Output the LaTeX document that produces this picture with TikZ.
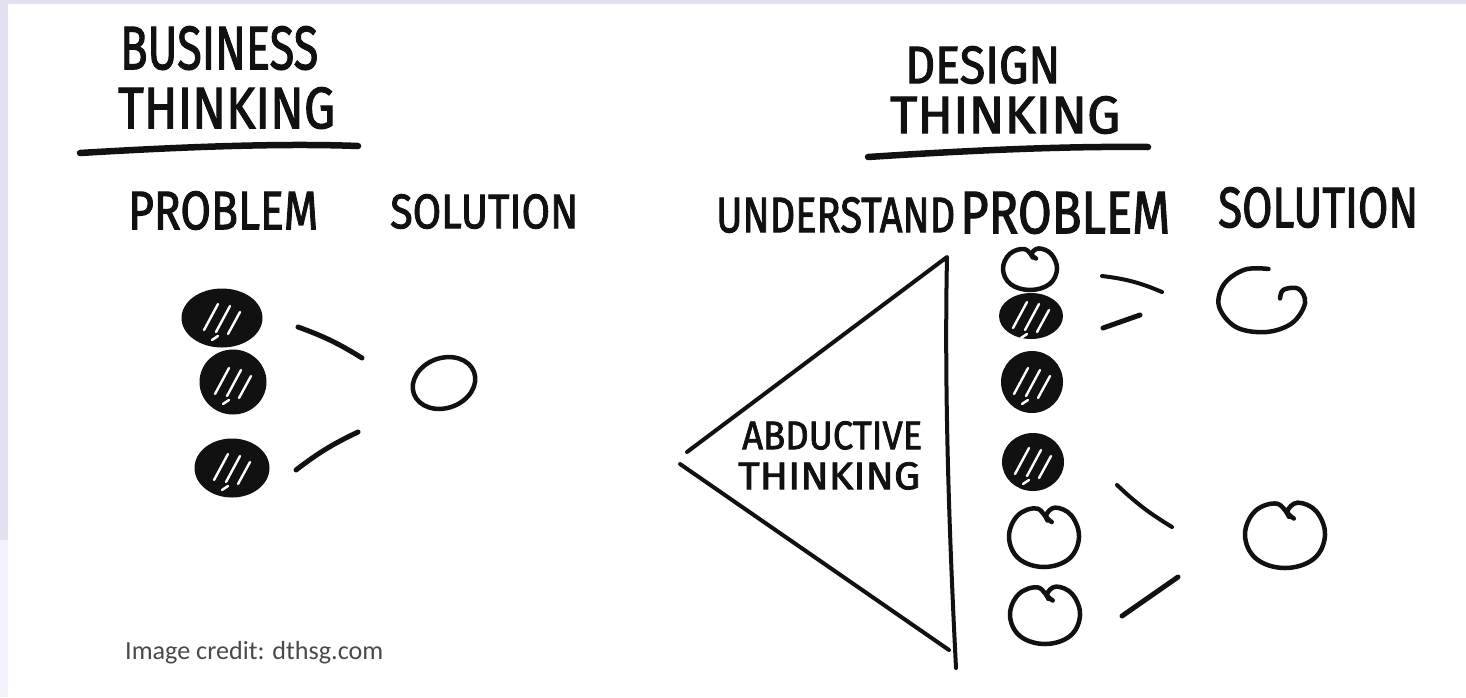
\documentclass[tikz,border=0pt]{standalone}
\usepackage{fontspec}
\setmainfont{Fira Sans}
\newfontfamily\handfont{Fira Sans}[FakeBold=2]
\newfontfamily\creditfont{Carlito}
\usetikzlibrary{shapes.geometric}
\definecolor{ink}{HTML}{111111}
\definecolor{lav}{HTML}{E3E1EF}
\definecolor{lavlight}{HTML}{F4F1FC}
\definecolor{creditgray}{HTML}{4A4A4A}
\newcommand{\handtxt}[3]{\resizebox{#1pt}{#2pt}{\handfont #3}}
\newcommand{\handthin}[3]{\resizebox{#1pt}{#2pt}{#3}}
\newcommand{\hatchin}[1]{%
  \draw[hatch] ([shift={(-18,12)}]#1.center) -- ([shift={(-4,-14)}]#1.center);
  \draw[hatch] ([shift={(-6,14)}]#1.center) -- ([shift={(8,-12)}]#1.center);
  \draw[hatch] ([shift={(6,16)}]#1.center) -- ([shift={(18,-6)}]#1.center);
  \draw[hatch] ([shift={(-10,22)}]#1.center) -- ([shift={(-4,18)}]#1.center);}
\begin{document}
\begin{tikzpicture}[x=1pt,y=-1pt,
  hand/.style={inner sep=0pt, anchor=north west, text=ink},
  stroke/.style={draw=ink, line width=5pt, line cap=round},
  rule/.style={draw=ink, line width=6.5pt, line cap=round},
  tri/.style={draw=ink, line width=4pt, line cap=round, line join=round},
  blob/.style={ellipse, fill=ink, draw=ink, line width=2pt, inner sep=0pt},
  ring/.style={draw=ink, line width=4.5pt, line cap=round, line join=round},
  hatch/.style={draw=white, line width=2.4pt, line cap=round},
  loop/.pic={\draw[ring] plot[smooth, tension=0.65] coordinates {(0.1,-0.55) (-0.2,-0.95) (-0.75,-0.72) (-1,0) (-0.72,0.72) (0,1) (0.72,0.72) (1,0) (0.78,-0.72) (0.32,-0.98) (0.06,-0.72) (0.22,-0.5)};},
  hook/.pic={\draw[ring] plot[smooth, tension=0.6] coordinates {(0.15,-0.97) (-0.4,-0.95) (-0.88,-0.5) (-1,0.2) (-0.6,0.85) (0.1,1) (0.7,0.72) (1,0.1) (0.85,-0.35) (0.5,-0.32) (0.42,-0.05)};}]

% background and frame strips
\fill[white] (0,0) rectangle (1466,697);
\fill[lav] (0,0) rectangle (1466,4);
\fill[lav] (0,0) rectangle (8,540);
\fill[lavlight] (0,540) rectangle (8,697);
\useasboundingbox (0,0) rectangle (1466,697);

% ---------------- Business thinking ----------------
\node[hand] (bt1) at (120,26) {\handtxt{198}{43}{BUSINESS}};
\node[hand] (bt2) at (118,87) {\handtxt{217}{41}{THINKING}};
\draw[rule] (80,153) .. controls (180,147) and (280,143) .. (358,146);
\node[hand] (bp) at (128,191) {\handtxt{190}{38}{PROBLEM}};
\node[hand] (bs) at (390,194) {\handtxt{188}{34}{SOLUTION}};

\node[blob, minimum width=79pt, minimum height=57pt] (b1) at (222,318) {};
\node[blob, minimum width=65pt, minimum height=63pt] (b2) at (233,382) {};
\node[blob, minimum width=73pt, minimum height=57pt] (b3) at (232,468) {};
\hatchin{b1}\hatchin{b2}\hatchin{b3}

\node[ellipse, draw=ink, line width=4.5pt, minimum width=64pt, minimum height=50pt, inner sep=0pt, rotate=20] (bsol) at (444,383) {};

\coordinate (l1a) at (298,327); \coordinate (l1b) at (362,358);
\coordinate (l2a) at (296,470); \coordinate (l2b) at (358,432);
\draw[stroke] (l1a) to[bend left=6] (l1b);
\draw[stroke] (l2a) to[bend left=6] (l2b);

\node[inner sep=0pt, anchor=north west] (cred) at (125,641) {\resizebox{258pt}{!}{\creditfont\color{creditgray}Image credit: dthsg.com}};

% ---------------- Design thinking ----------------
\node[hand] (dt1) at (905,46) {\handtxt{155}{37}{DESIGN}};
\node[hand] (dt2) at (890,96) {\handtxt{230}{37}{THINKING}};
\draw[rule] (868,157) .. controls (960,151) and (1060,146) .. (1148,147);
\node[hand] (du) at (716,197) {\handtxt{239}{35}{UNDERSTAND}};
\node[hand] (dp) at (960,191) {\handtxt{210}{42}{PROBLEM}};
\node[hand] (ds) at (1218,187) {\handtxt{200}{40}{SOLUTION}};

% triangle
\coordinate (ta) at (947,257);
\coordinate (tb) at (956,668);
\coordinate (tl1) at (687,452);
\coordinate (tl2) at (680,464);
\coordinate (tbl) at (949,650);
\draw[tri] (tl1) -- (ta) .. controls (944,400) and (950,550) .. (tb);
\draw[tri] (tl2) -- (tbl);
\node[hand] (ab1) at (742,421) {\handthin{180}{28}{\handfont ABDUCTIVE}};
\node[hand] (ab2) at (738,462) {\handthin{182}{27}{\handfont THINKING}};

% problem column
\coordinate (r1) at (1030,269);
\pic[xscale=27, yscale=21] at (r1) {loop};
\node[blob, minimum width=62pt, minimum height=44pt] (r2) at (1031,316) {};
\node[blob, minimum width=60pt, minimum height=60pt] (r3) at (1032,382) {};
\node[blob, minimum width=60pt, minimum height=56pt] (r4) at (1033,462) {};
\hatchin{r2}\hatchin{r3}\hatchin{r4}
\coordinate (r5) at (1044,537);
\pic[xscale=35, yscale=30] at (r5) {loop};
\coordinate (r6) at (1045,615);
\pic[xscale=35, yscale=29] at (r6) {loop};

% solutions
\coordinate (s1) at (1262,300);
\pic[xscale=43, yscale=32] at (s1) {hook};
\coordinate (s2) at (1285,535);
\pic[xscale=40, yscale=33] at (s2) {loop};

% connectors
\coordinate (c1a) at (1102,276); \coordinate (c1b) at (1162,292);
\coordinate (c2a) at (1103,328); \coordinate (c2b) at (1140,315);
\coordinate (c3a) at (1117,485); \coordinate (c3b) at (1172,527);
\coordinate (c4a) at (1122,616); \coordinate (c4b) at (1178,577);
\draw[stroke, line width=4pt] (c1a) to[bend left=8] (c1b);
\draw[stroke] (c2a) -- (c2b);
\draw[stroke, line width=4pt] (c3a) to[bend right=6] (c3b);
\draw[stroke] (c4a) -- (c4b);
\end{tikzpicture}
\end{document}
